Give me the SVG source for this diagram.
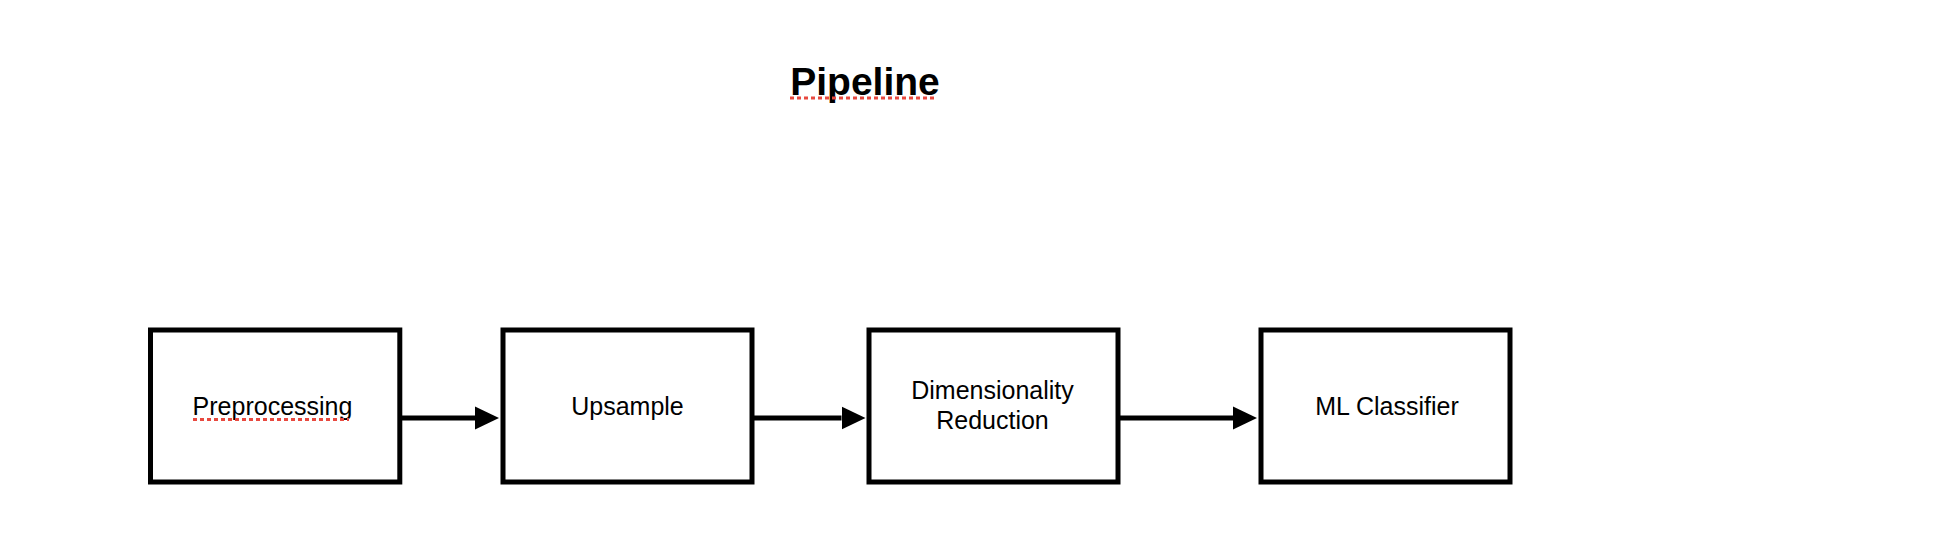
<svg xmlns="http://www.w3.org/2000/svg" width="1956" height="548" viewBox="0 0 1956 548">
<style>
.box{fill:#fff;stroke:#000;stroke-width:5}
.lbl{font-family:"Liberation Sans",Arial,Helvetica,sans-serif;font-size:25px;fill:#000;text-anchor:middle}
.title{font-family:"Liberation Sans",Arial,Helvetica,sans-serif;font-size:39px;font-weight:bold;fill:#000;text-anchor:middle}
.edge{fill:none;stroke:#000;stroke-width:5}
.squiggle{stroke:#e8493f;stroke-width:3;stroke-dasharray:4 3;fill:none}
</style>
<defs>
<marker id="ah" markerUnits="userSpaceOnUse" markerWidth="25" markerHeight="24" refX="0" refY="11.5" orient="auto" viewBox="0 0 25 23">
<path d="M0,0 L24,11.5 L0,23 z" fill="#000"/>
</marker>
</defs>
<rect width="1956" height="548" fill="#fff"/>
<g id="title">
<text class="title" x="865" y="94.5">Pipeline</text>
<line class="squiggle" x1="790" y1="98" x2="937" y2="98"/>
</g>
<g id="connectors">
<line class="edge" x1="400" y1="418" x2="475" y2="418" marker-end="url(#ah)"/>
<line class="edge" x1="752" y1="418" x2="841.5" y2="418" marker-end="url(#ah)"/>
<line class="edge" x1="1118" y1="418" x2="1233" y2="418" marker-end="url(#ah)"/>
</g>
<g id="preprocessing">
<rect class="box" x="150.5" y="330" width="249.3" height="152"/>
<text class="lbl" x="272.5" y="415">Preprocessing</text>
<line class="squiggle" x1="193" y1="419.5" x2="349" y2="419.5"/>
</g>
<g id="upsample">
<rect class="box" x="503" y="330" width="249" height="152"/>
<text class="lbl" x="627.5" y="415">Upsample</text>
</g>
<g id="dimensionality-reduction">
<rect class="box" x="869" y="330" width="249" height="152"/>
<text class="lbl" x="992.5" y="399">Dimensionality</text>
<text class="lbl" x="992.5" y="428.5">Reduction</text>
</g>
<g id="ml-classifier">
<rect class="box" x="1261" y="330" width="249" height="152"/>
<text class="lbl" x="1387" y="415">ML Classifier</text>
</g>
</svg>
